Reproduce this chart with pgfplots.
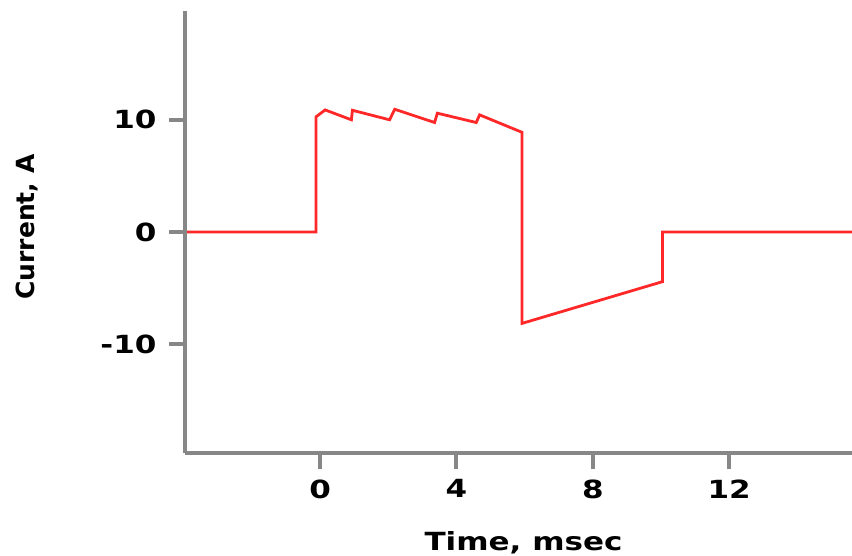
\documentclass[border=0pt]{standalone}
\usepackage{fontspec}
\setmainfont{DejaVu Sans}[FakeStretch=1.24]
\newfontfamily\plainfont{DejaVu Sans}
\usepackage{pgfplots}
\pgfplotsset{compat=1.18}
\definecolor{axgray}{RGB}{135,135,135}
\definecolor{linered}{RGB}{255,40,40}
\begin{document}
\begin{tikzpicture}
\useasboundingbox (-185pt,-103pt) rectangle (667pt,453pt);
\begin{axis}[
  scale only axis,
  width=667pt, height=442pt,
  xmin=-3.96, xmax=15.6,
  ymin=-19.7, ymax=19.7,
  axis lines*=left,
  axis on top,
  axis line style={draw=axgray, line width=4.5pt},
  xtick={0,4,8,12},
  ytick={-10,0,10},
  tick align=outside,
  major tick length=16pt,
  tick style={draw=axgray, line width=4pt},
  /pgf/number format/assume math mode=true,
  tick label style={font=\fontsize{25}{25}\selectfont\bfseries},
  xticklabel style={yshift=-7pt},
  yticklabel style={xshift=-9pt},
  xlabel={Time, msec},
  ylabel={Current, A},
  xlabel style={font=\fontsize{25}{25}\selectfont\bfseries, at={(axis description cs:0.5075,-0.2195)}, anchor=base},
  ylabel style={font=\plainfont\fontsize{25}{25}\selectfont\bfseries, at={(axis description cs:-0.2249,0.511)}, anchor=base},
]
\addplot[linered, line width=2.8pt, line join=miter] coordinates {
(-3.96,0) (-0.12,0) (-0.12,10.26) (0.15,10.88) (0.92,10.0) (0.95,10.85)
(2.04,10.0) (2.19,10.94) (3.36,9.76) (3.44,10.59) (4.58,9.76) (4.68,10.44)
(5.92,8.89) (5.92,-8.15) (10.04,-4.43) (10.04,0) (15.6,0)
};
\end{axis}
\end{tikzpicture}
\end{document}
